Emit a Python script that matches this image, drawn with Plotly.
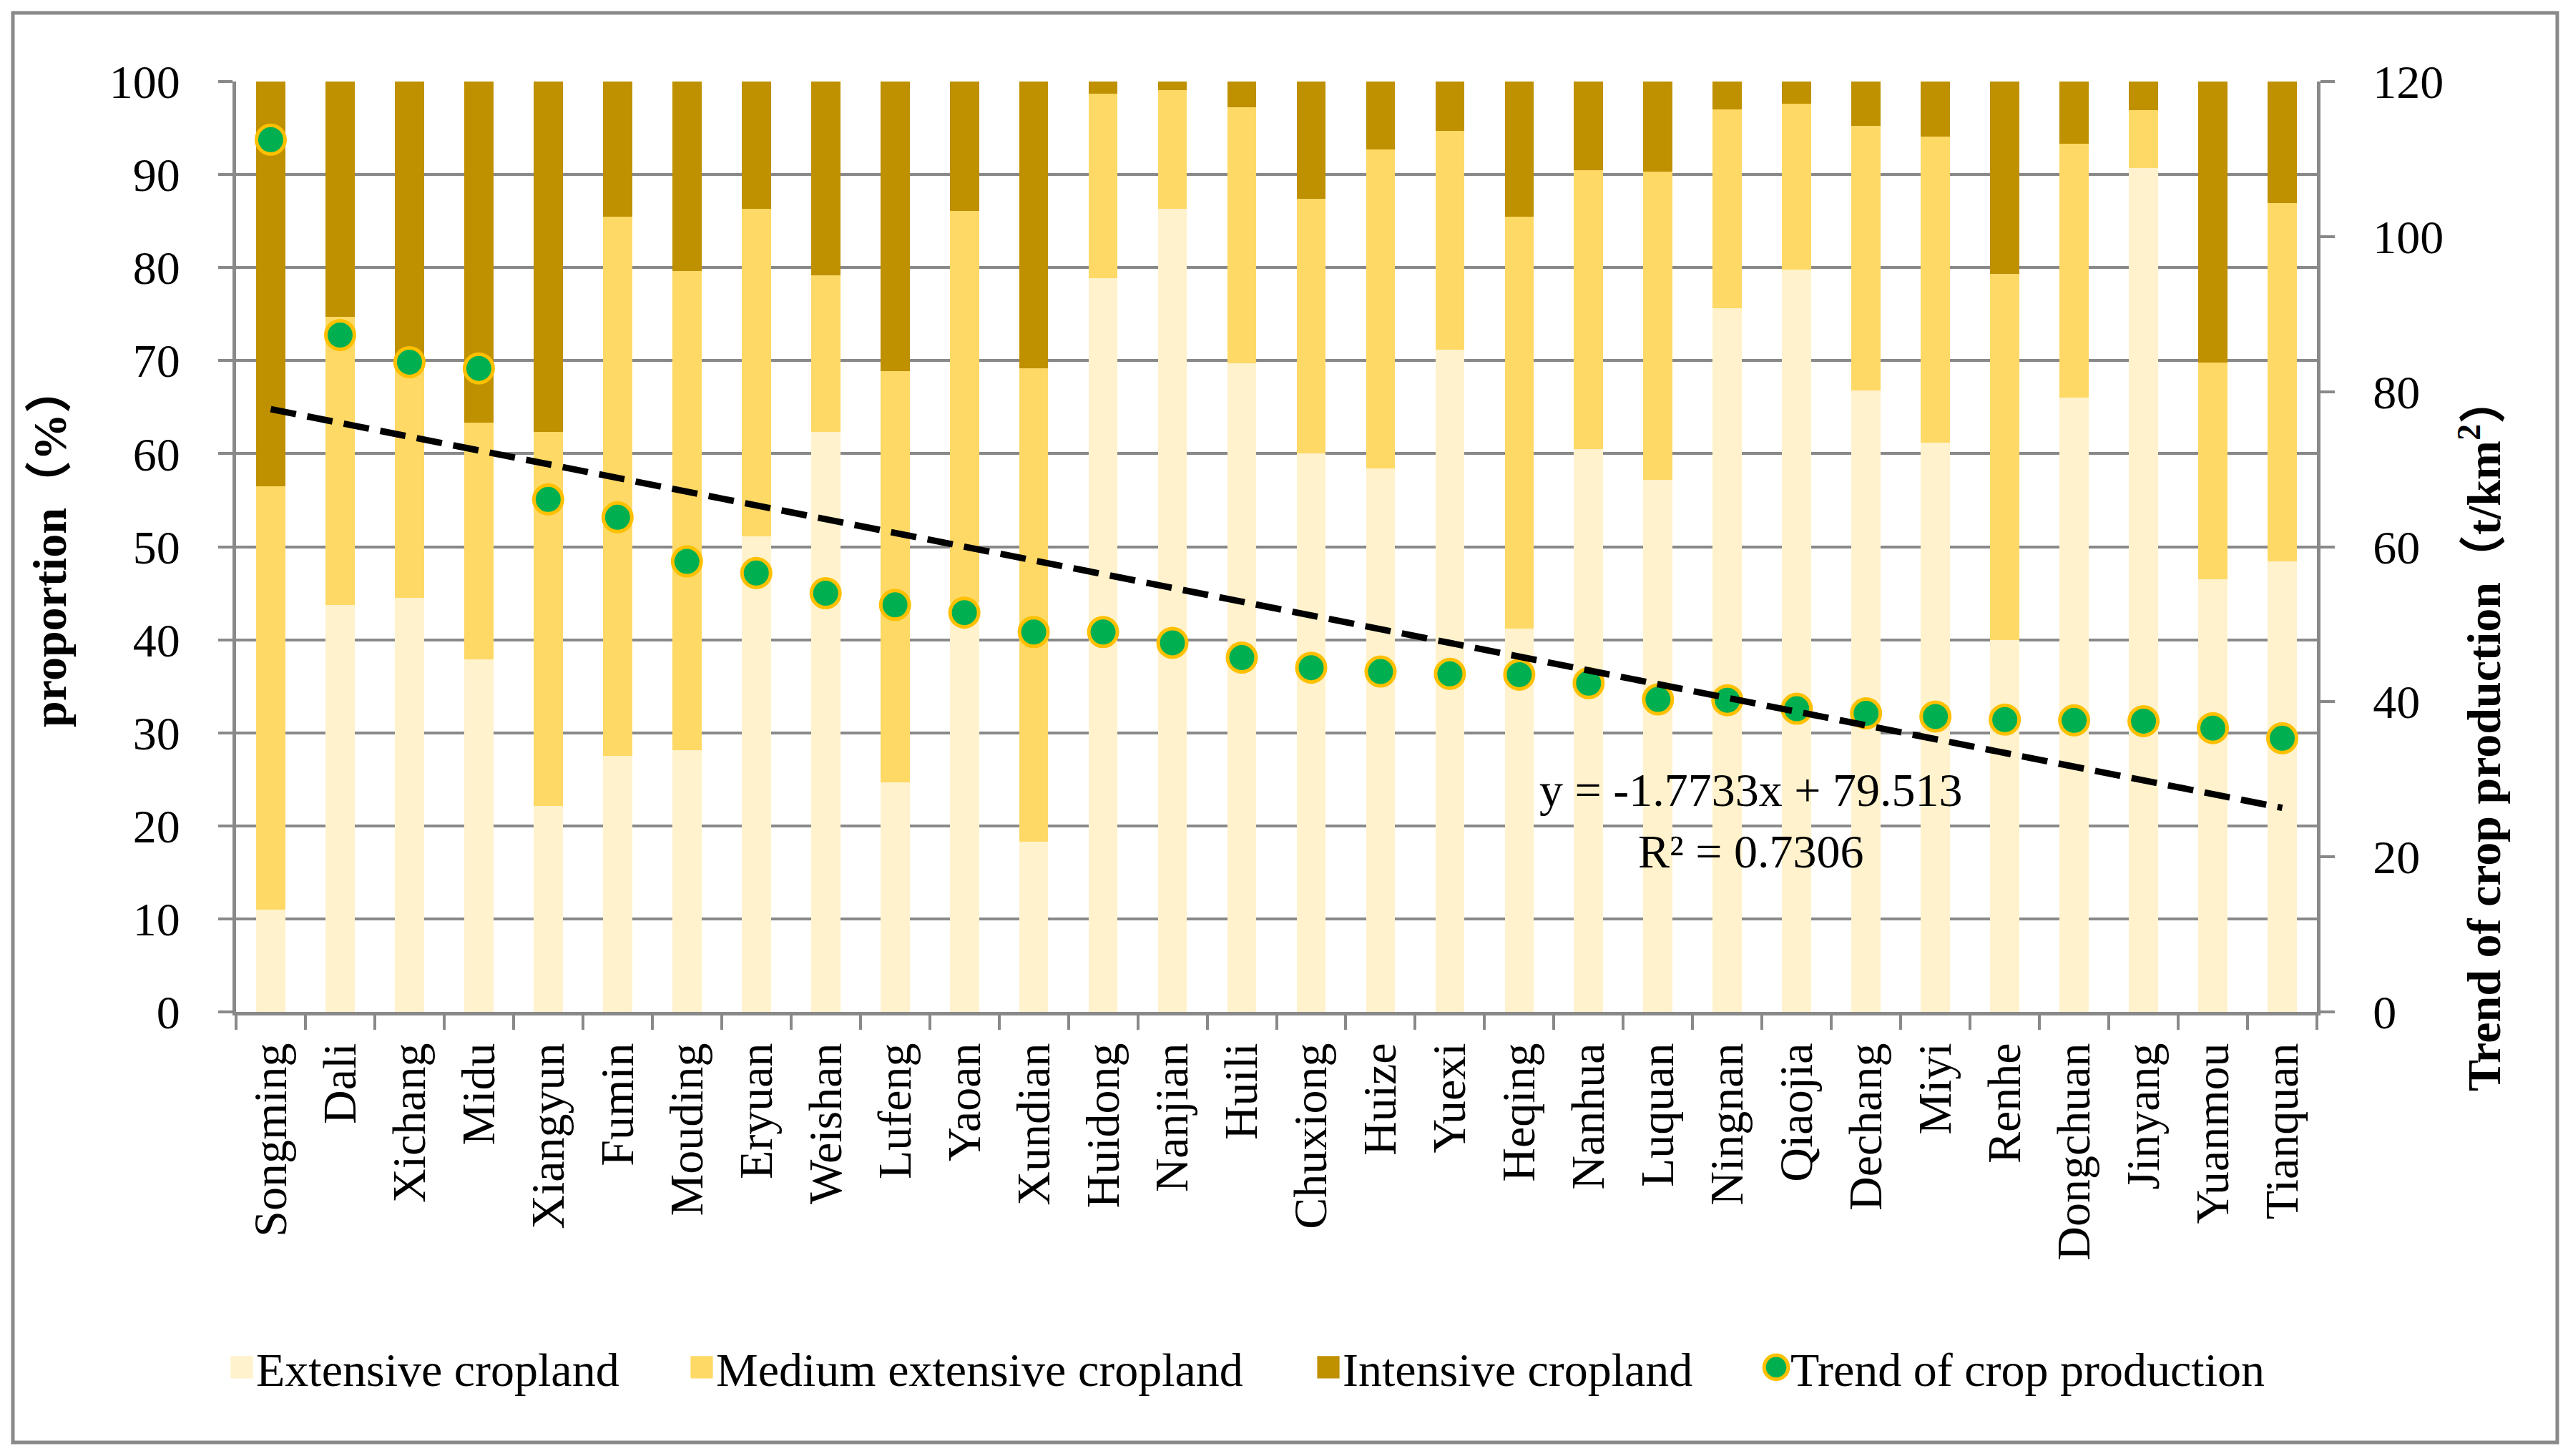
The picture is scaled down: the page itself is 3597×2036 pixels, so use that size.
import plotly.graph_objects as go

# ---------------- data ----------------
counties = ["Songming", "Dali", "Xichang", "Midu", "Xiangyun", "Fumin", "Mouding", "Eryuan",
            "Weishan", "Lufeng", "Yaoan", "Xundian", "Huidong", "Nanjian", "Huili", "Chuxiong",
            "Huize", "Yuexi", "Heqing", "Nanhua", "Luquan", "Ningnan", "Qiaojia", "Dechang",
            "Miyi", "Renhe", "Dongchuan", "Jinyang", "Yuanmou", "Tianquan"]

extensive = [11.0, 43.7, 44.5, 37.9, 22.1, 27.5, 28.1, 51.1, 62.3, 24.7,
             44.0, 18.3, 78.9, 86.3, 69.7, 60.0, 58.4, 71.2, 41.2, 60.5,
             57.2, 75.6, 79.8, 66.8, 61.2, 40.0, 66.0, 90.7, 46.5, 48.4]

medium = [45.5, 31.0, 25.0, 25.4, 40.2, 58.0, 51.5, 35.2, 16.9, 44.2,
          42.1, 50.9, 19.8, 12.8, 27.5, 27.4, 34.3, 23.5, 44.3, 30.0,
          33.1, 21.4, 17.8, 28.4, 32.9, 39.3, 27.3, 6.2, 23.3, 38.5]

intensive = [43.5, 25.3, 30.5, 36.7, 37.7, 14.5, 20.4, 13.7, 20.8, 31.1,
             13.9, 30.8, 1.3, 0.9, 2.8, 12.6, 7.3, 5.3, 14.5, 9.5,
             9.7, 3.0, 2.4, 4.8, 5.9, 20.7, 6.7, 3.1, 30.2, 13.1]

trend_production = [112.5, 87.3, 83.8, 83.0, 66.1, 63.8, 58.1, 56.6, 54.0, 52.5,
                    51.5, 49.0, 49.0, 47.6, 45.7, 44.4, 43.9, 43.6, 43.5, 42.4,
                    40.3, 40.2, 39.1, 38.5, 38.1, 37.7, 37.6, 37.5, 36.6, 35.3]

trend_slope = -1.7733
trend_intercept = 79.513
trend_r2 = 0.7306

series_names = ["Extensive cropland", "Medium extensive cropland", "Intensive cropland",
                "Trend of crop production"]
left_ticks = list(range(0, 101, 10))
right_ticks = list(range(0, 121, 20))

# ---------------- style ----------------
FONT = "Times New Roman, Liberation Serif, Noto Sans CJK SC, serif"
GREY = "#898989"
C_EXT = "#FFF2CC"
C_MED = "#FFD966"
C_INT = "#BF9000"
FS = 66

W, H = 3597, 2036
PL, PR, PT, PB = 330, 3239, 114, 1415   # plot-area pixel box


def px_x(px):
    return (px - PL) / (PR - PL)


def px_y(py):
    return (PB - py) / (PB - PT)


fig = go.Figure()

for vals, name, col, lg in [(extensive, series_names[0], C_EXT, "legend"),
                            (medium, series_names[1], C_MED, "legend2"),
                            (intensive, series_names[2], C_INT, "legend3")]:
    fig.add_trace(go.Bar(x=counties, y=vals, name=name, marker=dict(color=col, line=dict(width=0)),
                         legend=lg))

fig.add_trace(go.Scatter(x=counties, y=trend_production, name=series_names[3], mode="markers",
                         yaxis="y2", legend="legend4",
                         marker=dict(size=40, color="#00B050", line=dict(color="#FFC000", width=5))))

trend_line = [trend_slope * (i + 1) + trend_intercept for i in range(len(counties))]
fig.add_trace(go.Scatter(x=counties, y=trend_line, mode="lines", yaxis="y2", showlegend=False,
                         line=dict(color="black", width=9, dash="36px,16px"), hoverinfo="skip"))

legend_common = dict(orientation="h", yanchor="middle", y=px_y(1912), xanchor="left",
                     font=dict(family=FONT, size=FS, color="black"), bgcolor="rgba(0,0,0,0)")

fig.update_layout(
    width=W, height=H,
    margin=dict(l=PL, r=W - PR, t=PT, b=H - PB, pad=0),
    paper_bgcolor="white", plot_bgcolor="white",
    barmode="stack", bargap=0.58,
    font=dict(family=FONT, size=FS, color="black"),
    legend=dict(legend_common, x=px_x(318)),
    legend2=dict(legend_common, x=px_x(961)),
    legend3=dict(legend_common, x=px_x(1837)),
    legend4=dict(legend_common, x=px_x(2463)),
    xaxis=dict(type="category", range=[-0.5, len(counties) - 0.5], tickangle=-90,
               showline=True, linecolor=GREY, linewidth=5, showgrid=False,
               ticks="outside", ticklen=20, tickwidth=4, tickcolor=GREY, tickson="boundaries",
               ticklabelstandoff=12,
               tickfont=dict(family=FONT, size=FS, color="black")),
    yaxis=dict(range=[0, 100], tickvals=left_ticks, showgrid=True, gridcolor=GREY, gridwidth=4,
               zeroline=False, showline=True, linecolor=GREY, linewidth=5,
               ticks="outside", ticklen=20, tickwidth=4, tickcolor=GREY, ticklabelstandoff=40,
               tickfont=dict(family=FONT, size=FS, color="black"),
               title=dict(text="<b>proportion（%）</b>", standoff=40,
                          font=dict(family=FONT, size=FS, color="black"))),
    yaxis2=dict(range=[0, 120], tickvals=right_ticks, overlaying="y", side="right",
                showgrid=False, zeroline=False, showline=True, linecolor=GREY, linewidth=5,
                ticks="outside", ticklen=20, tickwidth=4, tickcolor=GREY, ticklabelstandoff=40,
                tickfont=dict(family=FONT, size=FS, color="black")),
    showlegend=True,
)

fig.add_annotation(xref="paper", yref="paper", x=px_x(3467), y=px_y(1027), textangle=-90,
                   text="<b>Trend of crop production（t/km<sup>2</sup>）</b>", showarrow=False,
                   font=dict(family=FONT, size=FS, color="black"), xanchor="center", yanchor="middle")

fig.add_annotation(xref="paper", yref="paper", x=px_x(2447), y=px_y(1147),
                   text=f"y = {trend_slope}x + {trend_intercept}<br>R² = {trend_r2}",
                   showarrow=False, align="center", xanchor="center", yanchor="middle",
                   font=dict(family=FONT, size=FS, color="black"))

fig.add_shape(type="rect", xref="paper", yref="paper", x0=px_x(18), x1=px_x(3575),
              y0=px_y(2017), y1=px_y(18), line=dict(color=GREY, width=5), layer="below")

# enlarge the (fixed-size) legend swatches so they match the reference proportions
post = """
document.body.style.margin='0';
document.querySelectorAll('.legendpoints path').forEach(function(p){
  var isBar = p.classList.contains('legendbar') || (p.getAttribute('d')||'').indexOf('M6,6H-6V-6H6Z')===0;
  var s = isBar ? 2.6 : 2.1;
  p.setAttribute('transform', (p.getAttribute('transform')||'') + ' scale(' + s + ')');
  if(!isBar){ p.style.vectorEffect='non-scaling-stroke'; }
});
"""

fig.write_html("out.html", post_script=post, config={"displayModeBar": False})
